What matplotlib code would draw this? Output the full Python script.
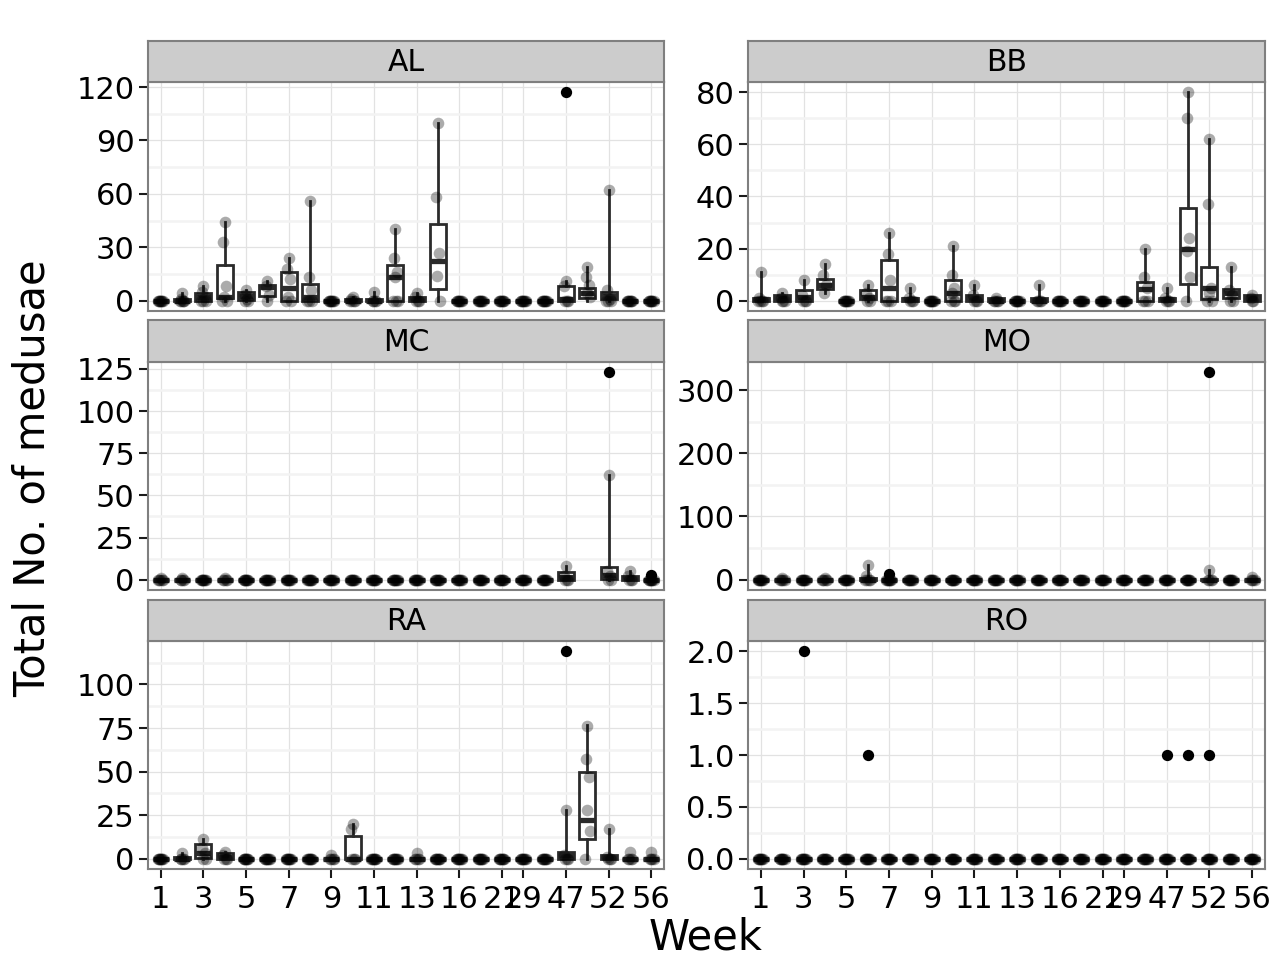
import matplotlib
matplotlib.use("Agg")
import matplotlib.pyplot as plt
import numpy as np
from matplotlib.ticker import FixedLocator

# sampling weeks (discrete x axis) and the ones that get a label
weeks = [1, 2, 3, 4, 5, 6, 7, 8, 9, 10, 11, 12, 13, 14, 16, 19, 21, 29, 45, 47, 49, 52, 54, 56]
week_breaks = [1, 3, 5, 7, 9, 11, 13, 16, 21, 29, 47, 52, 56]

sites = ["AL", "BB", "MC", "MO", "RA", "RO"]

# box stats per week: (whisker low, q1, median, q3, whisker high); unlisted weeks are all zero
al_box = {2: (0, 0, 0, 1, 4), 3: (0, 0, 2, 4, 8), 4: (0, 1.5, 2, 20, 44), 5: (0, 0.5, 2.5, 5, 6),
          6: (0, 2.5, 7.5, 9, 11), 7: (0, 0, 7, 16, 24), 8: (0, 0, 2, 9.5, 56), 10: (0, 0, 0, 1, 2),
          11: (0, 0, 0, 1, 5), 12: (0, 0, 13, 20, 40), 13: (0, 0, 1, 2, 4), 14: (0, 6.5, 22, 43, 100),
          47: (0, 0, 1, 8, 11), 49: (0, 1.5, 4, 7, 19), 52: (0, 1, 2.5, 5, 62)}
al_pts = {2: [0, 0, 0, 0, 0, 1, 4], 3: [0, 0, 0, 2, 5, 8], 4: [0, 0, 2, 8, 33, 44], 5: [0, 0, 1, 3, 6],
          6: [0, 3, 8, 11], 7: [0, 0, 2, 12, 18, 24], 8: [0, 0, 0, 6, 13, 56], 10: [0, 0, 0, 0, 1, 2],
          11: [0, 0, 0, 0, 5], 12: [0, 0, 0, 13, 16, 24, 40], 13: [0, 0, 0, 2, 4], 14: [0, 14, 27, 58, 100],
          47: [0, 0, 0, 8, 11], 49: [2, 4, 9, 13, 19], 52: [0, 0, 0, 1, 6, 62]}
al_out = {47: [117]}

bb_box = {1: (0, 0, 0.5, 1, 11), 2: (0, 0, 1, 2, 3), 3: (0, 0, 1.5, 4, 8), 4: (3, 4.5, 6, 8.3, 14),
          6: (0, 0.5, 1.5, 4, 6), 7: (0, 0, 5, 15.5, 26), 8: (0, 0, 0.5, 1, 5), 10: (0, 0, 3, 8, 21),
          11: (0, 0, 1, 2, 6), 12: (0, 0, 0, 1, 1), 14: (0, 0, 0, 1, 6), 45: (0, 0, 4.5, 7, 20),
          47: (0, 0, 0.5, 1, 5), 49: (0, 6.5, 20, 35.6, 80), 52: (0, 0.6, 5, 13, 62),
          54: (0, 1, 3, 4.5, 13), 56: (0, 0, 1, 2, 2)}
bb_pts = {1: [0, 0, 0, 0, 1, 11], 2: [0, 0, 0, 1, 3], 3: [0, 0, 0, 2, 8], 4: [3, 6, 10, 14],
          6: [0, 0, 1, 3, 6], 7: [0, 0, 0, 8, 18, 26], 8: [0, 0, 0, 1, 5], 10: [0, 0, 0, 3, 5, 10, 21],
          11: [0, 0, 0, 2, 6], 12: [0, 0, 0, 0, 1], 14: [0, 0, 0, 0, 6], 45: [0, 0, 0, 5, 9, 20],
          47: [0, 0, 0, 1, 5], 49: [0, 9, 19, 24, 70, 80], 52: [0, 0, 3, 5, 37, 62],
          54: [0, 0, 2, 4, 13], 56: [0, 0, 1, 2]}
bb_out = {}

mc_box = {47: (0, 0, 1.5, 4.3, 8), 52: (0, 0.5, 3, 7.5, 62), 54: (0, 0, 1, 2, 5)}
mc_pts = {1: [0, 0, 0, 0, 0, 1], 2: [0, 0, 0, 0, 1], 4: [0, 0, 0, 0, 1], 47: [0, 0, 0, 2, 8],
          52: [0, 0, 2, 5, 62], 54: [0, 0, 0, 2, 5]}
mc_out = {52: [123], 56: [3]}
mc_missing = [49]

mo_box = {6: (0, 0, 0, 3, 23), 52: (0, 0, 0, 1, 15)}
mo_pts = {2: [0, 0, 0, 0, 0, 2], 4: [0, 0, 0, 0, 0, 2], 6: [0, 0, 0, 0, 5, 23],
          52: [0, 0, 0, 0, 15], 56: [0, 0, 0, 0, 4]}
mo_out = {7: [9], 52: [328]}

ra_box = {2: (0, 0, 0, 1, 3), 3: (0, 0.5, 3, 8.6, 11), 4: (0, 0, 1, 3, 4), 10: (0, 0, 0, 13, 20),
          47: (0, 0, 2, 4, 28), 49: (0, 11.5, 22.4, 49.8, 76.6), 52: (0, 0, 1, 2, 17)}
ra_pts = {2: [0, 0, 0, 0, 3], 3: [0, 0, 3, 6, 11], 4: [0, 0, 0, 2, 4], 9: [0, 0, 0, 0, 2],
          10: [0, 0, 0, 17, 20], 13: [0, 0, 0, 0, 3], 47: [0, 0, 0, 2, 28],
          49: [0, 16, 28, 47, 57, 76], 52: [0, 0, 0, 1, 17], 54: [0, 0, 0, 0, 4], 56: [0, 0, 0, 0, 4]}
ra_out = {47: [119]}

ro_box = {}
ro_pts = {}
ro_out = {3: [2], 6: [1], 47: [1], 49: [1], 52: [1]}

yticks = {
    "AL": [0, 30, 60, 90, 120],
    "BB": [0, 20, 40, 60, 80],
    "MC": [0, 25, 50, 75, 100, 125],
    "MO": [0, 100, 200, 300],
    "RA": [0, 25, 50, 75, 100],
    "RO": [0, 0.5, 1.0, 1.5, 2.0],
}
ro_labels = ["0.0", "0.5", "1.0", "1.5", "2.0"]

panel_data = {
    "AL": (al_box, al_pts, al_out, []),
    "BB": (bb_box, bb_pts, bb_out, []),
    "MC": (mc_box, mc_pts, mc_out, mc_missing),
    "MO": (mo_box, mo_pts, mo_out, []),
    "RA": (ra_box, ra_pts, ra_out, []),
    "RO": (ro_box, ro_pts, ro_out, []),
}

zero_pts = [0] * 8
# sideways offsets; the largest value of a week sits in the middle
jit = [0.0, -0.07, 0.06, -0.03, 0.11, -0.12, 0.03, -0.09]

W, H = 1281, 971
fig = plt.figure(figsize=(W / 100, H / 100), dpi=100)
fig.patch.set_facecolor("white")

col_x = [(148, 664), (748, 1265)]
row_y = [(82, 311), (362, 590), (641, 869)]
strip_y = [(41, 82), (320, 362), (600, 641)]

edge = "#2b2b2b"
border = "#7f7f7f"

for k, site in enumerate(sites):
    r, c = divmod(k, 2)
    x0, x1 = col_x[c]
    y0, y1 = row_y[r]
    ax = fig.add_axes([x0 / W, 1 - y1 / H, (x1 - x0) / W, (y1 - y0) / H])
    s0, s1 = strip_y[r]
    sax = fig.add_axes([x0 / W, 1 - s1 / H, (x1 - x0) / W, (s1 - s0) / H])

    box, pts, out, missing = panel_data[site]

    stats, pos = [], []
    for i, w in enumerate(weeks):
        if w in missing:
            continue
        lo, q1, med, q3, hi = box.get(w, (0, 0, 0, 0, 0))
        stats.append(dict(whislo=lo, q1=q1, med=med, q3=q3, whishi=hi, fliers=[]))
        pos.append(i)
    ax.bxp(stats, positions=pos, widths=0.75, showfliers=False, showcaps=False,
           patch_artist=True, manage_ticks=False,
           boxprops=dict(facecolor="white", edgecolor=edge, linewidth=2.0),
           whiskerprops=dict(color=edge, linewidth=2.0),
           medianprops=dict(color=edge, linewidth=3.8))

    # raw counts, spread a little sideways
    for i, w in enumerate(weeks):
        if w in missing:
            continue
        vals = pts.get(w, zero_pts)
        n = len(vals)
        xs = [i + jit[(n - 1 - j) % len(jit)] for j in range(n)]
        ax.scatter(xs, vals, s=70, color="black", alpha=0.33, linewidths=0, zorder=3)
        if w in out:
            ax.scatter([i] * len(out[w]), out[w], s=66, color="black", linewidths=0, zorder=4)

    # y range with 5% padding around 0..max
    ymax = 0
    for w in weeks:
        ymax = max([ymax] + list(box.get(w, (0,) * 5)) + list(pts.get(w, [0])) + list(out.get(w, [0])))
    ax.set_ylim(-0.05 * ymax, 1.05 * ymax)
    ax.set_xlim(-0.6, len(weeks) - 0.4)

    yt = yticks[site]
    ax.set_yticks(yt)
    ax.set_yticklabels(ro_labels if site == "RO" else [f"{v:g}" for v in yt])
    step = yt[1] - yt[0]
    minor = [v + step / 2 for v in [yt[0] - step] + yt]
    ax.yaxis.set_minor_locator(FixedLocator([m for m in minor if -0.05 * ymax < m < 1.05 * ymax]))

    xb = [weeks.index(w) for w in week_breaks]
    ax.set_xticks(xb)
    if r == 2:
        ax.set_xticklabels([str(w) for w in week_breaks])
    else:
        ax.set_xticklabels([])

    ax.set_axisbelow(True)
    ax.grid(which="major", color="#e2e2e2", linewidth=0.9)
    ax.grid(which="minor", axis="y", color="#f3f3f3", linewidth=1.8)
    ax.tick_params(which="minor", length=0)
    ax.tick_params(which="major", length=6.5, width=1.5, color="#1a1a1a", labelsize=22, pad=3)
    ax.tick_params(axis="x", pad=5, length=6.5 if r == 2 else 0)
    for sp in ax.spines.values():
        sp.set_color(border)
        sp.set_linewidth(1.5)

    sax.set_facecolor("#cccccc")
    sax.set_xticks([])
    sax.set_yticks([])
    for sp in sax.spines.values():
        sp.set_color(border)
        sp.set_linewidth(1.5)
    sax.text(0.5, 0.47, site, ha="center", va="center", fontsize=21.5, transform=sax.transAxes)

fig.text(33 / W, 1 - 478 / H, "Total No. of medusae", rotation=90, ha="center", va="center", fontsize=30)
fig.text(706 / W, 1 - 937 / H, "Week", ha="center", va="center", fontsize=30)

fig.savefig("out.png", dpi=100, facecolor="white")
